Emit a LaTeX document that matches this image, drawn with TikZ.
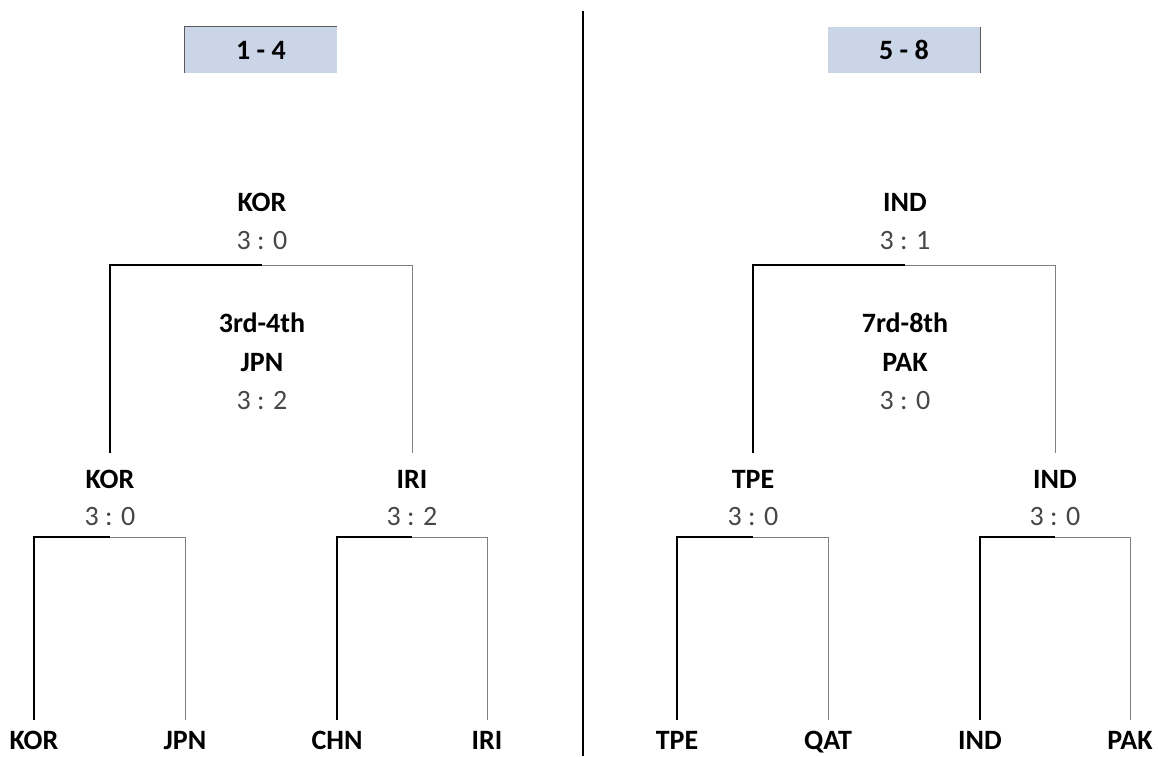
\documentclass[tikz,border=0pt]{standalone}
\usepackage{fontspec}
\setmainfont{Carlito}
\usetikzlibrary{positioning}
\definecolor{headfill}{HTML}{CBD5E8}
\definecolor{headline}{HTML}{595959}
\definecolor{thinline}{HTML}{7F7F7F}

\begin{document}
\begin{tikzpicture}[x=1pt, y=-1pt,
  team/.style={font=\fontsize{28}{30}\selectfont\bfseries, text height=18pt, text depth=0pt,
    inner sep=0pt, outer ysep=11pt, anchor=base},
  semi/.style={team, outer ysep=17pt},
  score/.style={team, font=\fontsize{28}{30}\selectfont, text=black!72},
  head/.style={fill=headfill, minimum width=152pt, minimum height=46pt, inner sep=0pt,
    font=\fontsize{28}{30}\selectfont\bfseries},
  win/.style={line width=2pt, black},
  lose/.style={line width=1pt, thinline},
  divider/.style={line width=2.5pt, black},
]
\useasboundingbox (0,0) rectangle (1158,756);

% divider
\coordinate (dtop) at (583,11);
\coordinate (dbot) at (583,756);
\draw[divider] (dtop) -- (dbot);

% places 1 - 4
\node[head] (h14) at (261,50) {1 - 4};
\draw[headline, line width=1pt] (h14.south west) -- (h14.north west) -- (h14.north east);

\node[team]  (fin14)   at (262,211) {KOR};
\node[score] (fins14)  at (262,249) {3 : 0};
\node[team]  (third)   at (262,332) {3rd-4th};
\node[team]  (thirdw)  at (262,371) {JPN};
\node[score] (thirds)  at (262,409) {3 : 2};

\node[semi]  (kor2) at (110,488) {KOR};
\node[score] (kor2s) at (110,525) {3 : 0};
\node[semi]  (iri2) at (412,488) {IRI};
\node[score] (iri2s) at (412,525) {3 : 2};

\node[team] (kor1) at (34,749)  {KOR};
\node[team] (jpn1) at (185,749) {JPN};
\node[team] (chn1) at (337,749) {CHN};
\node[team] (iri1) at (487,749) {IRI};

\coordinate (j14)  at (262,265);
\coordinate (jkor) at (110,537);
\coordinate (jiri) at (412,537);

\draw[win]  (kor1.north) |- (jkor);
\draw[lose] (jpn1.north) |- (jkor);
\draw[win]  (chn1.north) |- (jiri);
\draw[lose] (iri1.north) |- (jiri);
\draw[win]  (kor2.north) |- (j14);
\draw[lose] (iri2.north) |- (j14);

% places 5 - 8
\node[head] (h58) at (904,50) {5 - 8};
\draw[headline, line width=1pt] (h58.north east) -- (h58.south east);

\node[team]  (fin58)   at (905,211) {IND};
\node[score] (fins58)  at (905,249) {3 : 1};
\node[team]  (seventh)  at (905,332) {7rd-8th};
\node[team]  (seventhw) at (905,371) {PAK};
\node[score] (sevenths) at (905,409) {3 : 0};

\node[semi]  (tpe2) at (753,488)  {TPE};
\node[score] (tpe2s) at (753,525) {3 : 0};
\node[semi]  (ind2) at (1055,488) {IND};
\node[score] (ind2s) at (1055,525) {3 : 0};

\node[team] (tpe1) at (677,749)  {TPE};
\node[team] (qat1) at (828,749)  {QAT};
\node[team] (ind1) at (980,749)  {IND};
\node[team] (pak1) at (1130,749) {PAK};

\coordinate (j58)  at (905,265);
\coordinate (jtpe) at (753,537);
\coordinate (jind) at (1055,537);

\draw[win]  (tpe1.north) |- (jtpe);
\draw[lose] (qat1.north) |- (jtpe);
\draw[win]  (ind1.north) |- (jind);
\draw[lose] (pak1.north) |- (jind);
\draw[win]  (tpe2.north) |- (j58);
\draw[lose] (ind2.north) |- (j58);
\end{tikzpicture}
\end{document}
